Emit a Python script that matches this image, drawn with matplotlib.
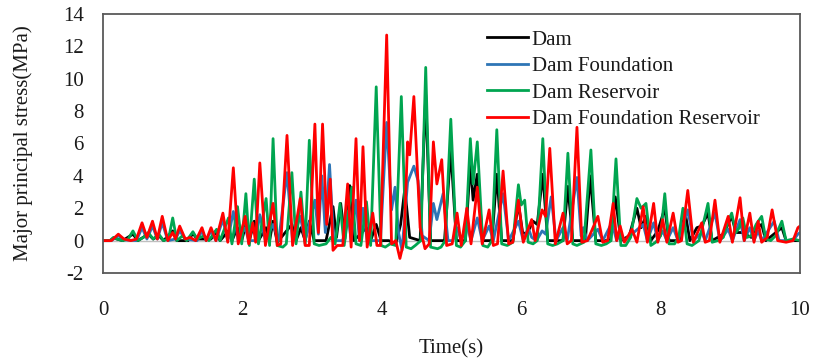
import matplotlib
matplotlib.use("Agg")
import matplotlib.pyplot as plt

# ---- response histories: (time in s, major principal stress in MPa) ----
dam_t = [0.0, 0.10, 0.15, 0.20, 0.28, 0.43, 0.50, 0.65, 0.72, 0.80, 0.87, 1.00, 1.06,
         1.22, 1.29, 1.35, 1.55, 1.61, 1.68, 1.80, 1.85, 1.93, 1.99, 2.05, 2.10, 2.17,
         2.23, 2.34, 2.39, 2.44, 2.50, 2.71, 2.77, 2.84, 2.90, 2.96, 3.03, 3.20, 3.30,
         3.35, 3.41, 3.47, 3.54, 3.60, 3.78, 3.84, 3.92, 3.99, 4.10, 4.20, 4.27, 4.33,
         4.40, 4.55, 4.63, 4.70, 4.90, 4.99, 5.07, 5.20, 5.27, 5.31, 5.37, 5.45, 5.58,
         5.65, 5.72, 5.88, 5.96, 6.02, 6.08, 6.17, 6.23, 6.31, 6.38, 6.60, 6.67, 6.74,
         6.92, 6.99, 7.07, 7.28, 7.35, 7.43, 7.55, 7.66, 7.72, 7.79, 7.86, 7.96, 8.06,
         8.12, 8.28, 8.35, 8.42, 8.52, 8.59, 8.68, 8.74, 8.90, 9.02, 9.08, 9.17, 9.30,
         9.35, 9.45, 9.51, 9.74, 9.80, 10.0]
dam_v = [0.0, 0.0, 0.15, 0.1, 0.0, 0.4, 0.0, 0.4, 0.1, 0.3, 0.0, 0.6, 0.0,
         0.0, 0.45, 0.1, 0.1, 0.55, 0.0, 0.6, 0.0, 0.8, 0.0, 1.0, 0.0, 1.2,
         0.0, 0.8, 0.0, 1.2, -0.1, 1.0, 0.0, 0.8, 0.0, 1.2, 0.0, 0.0, 2.1,
         0.2, 2.3, 0.1, 3.4, 0.0, 0.8, 0.0, 1.0, 0.0, 0.0, -0.2, 1.0, 3.2,
         0.2, 0.0, 9.0, 0.0, 0.0, 5.6, 0.0, 0.0, 4.8, 2.5, 4.1, 0.0, 0.0,
         4.1, 0.0, 0.0, 2.3, 0.5, 0.4, 1.2, 1.0, 4.1, 0.0, 0.0, 3.35, 0.0,
         0.0, 4.0, 0.0, 0.0, 2.7, 0.0, 0.3, 2.0, 0.8, 1.5, 0.0, 0.6, 2.0,
         0.0, 0.0, 1.8, 0.0, 0.8, 0.9, 1.7, 0.0, 0.4, 1.5, 0.5, 0.5, 0.2,
         0.7, 1.0, 0.0, 0.8, 0.0, 0.0]

found_t = [0.0, 0.12, 0.22, 0.30, 0.48, 0.56, 0.63, 0.71, 0.78, 0.85, 0.93, 1.04, 1.10,
           1.18, 1.35, 1.42, 1.48, 1.55, 1.62, 1.72, 1.79, 1.87, 1.94, 2.04, 2.09, 2.19,
           2.25, 2.33, 2.44, 2.52, 2.64, 2.72, 2.83, 2.90, 3.04, 3.09, 3.14, 3.19, 3.25,
           3.31, 3.44, 3.51, 3.56, 3.63, 3.68, 3.73, 3.79, 3.98, 4.07, 4.14, 4.19, 4.24,
           4.29, 4.37, 4.46, 4.52, 4.58, 4.68, 4.74, 4.79, 4.88, 4.95, 5.02, 5.08, 5.14,
           5.22, 5.28, 5.37, 5.44, 5.54, 5.60, 5.74, 5.82, 5.96, 6.03, 6.10, 6.15, 6.22,
           6.30, 6.35, 6.43, 6.50, 6.60, 6.66, 6.80, 6.86, 6.89, 6.95, 7.10, 7.17, 7.30,
           7.37, 7.42, 7.48, 7.75, 7.81, 7.90, 7.96, 8.03, 8.09, 8.18, 8.25, 8.39, 8.47,
           8.59, 8.64, 8.78, 8.85, 8.97, 9.03, 9.14, 9.20, 9.28, 9.34, 9.40, 9.45, 9.63,
           9.70, 9.90, 9.97, 10.0]
found_v = [0.0, 0.0, 0.3, 0.05, 0.0, 0.8, 0.1, 0.9, 0.1, 1.1, 0.0, 0.1, 0.6,
           0.1, 0.0, 0.6, 0.0, 0.6, 0.0, 1.3, 0.0, 1.8, 0.0, 0.8, 0.0, 0.0,
           1.6, 0.0, 1.0, 0.0, 4.2, 0.0, 1.5, 0.0, 2.5, 0.4, 4.0, 0.5, 4.7,
           0.0, 0.0, 1.8, 0.0, 2.5, 0.0, 2.0, 0.0, 0.0, 7.3, 1.9, 3.3, 0.5,
           -0.6, 3.6, 4.6, 3.7, 0.3, 0.0, 2.3, 1.3, 2.9, 0.0, 0.0, 0.8, 0.0,
           1.0, 0.0, 1.4, 0.0, 0.9, 0.0, 2.9, 0.0, 1.2, 0.0, 0.8, 0.2, 0.0,
           0.6, 0.4, 2.7, 0.0, 0.8, 0.0, 3.9, 0.3, 0.8, 0.0, 0.7, 0.0, 1.1,
           0.0, 0.5, 0.0, 1.0, 0.0, 1.1, 0.0, 0.6, 0.0, 0.8, 0.0, 1.9, 0.0,
           0.5, 0.0, 1.7, 0.0, 0.7, 0.0, 1.3, 0.0, 0.8, 0.0, 0.6, 0.0, 1.2,
           0.0, 0.0, 0.4, 0.5]

res_t = [0.0, 0.10, 0.15, 0.20, 0.28, 0.36, 0.43, 0.50, 0.58, 0.65, 0.72, 0.80, 0.87,
         0.94, 1.00, 1.06, 1.14, 1.20, 1.29, 1.35, 1.45, 1.52, 1.63, 1.68, 1.80, 1.85,
         1.93, 1.99, 2.05, 2.10, 2.17, 2.23, 2.34, 2.39, 2.44, 2.50, 2.58, 2.63, 2.71,
         2.77, 2.84, 2.90, 2.96, 3.03, 3.10, 3.20, 3.27, 3.33, 3.40, 3.46, 3.57, 3.63,
         3.70, 3.78, 3.84, 3.92, 3.99, 4.05, 4.12, 4.20, 4.28, 4.35, 4.42, 4.48, 4.56,
         4.63, 4.70, 4.80, 4.85, 4.91, 4.99, 5.07, 5.13, 5.20, 5.27, 5.31, 5.37, 5.45,
         5.52, 5.58, 5.65, 5.72, 5.80, 5.88, 5.96, 6.00, 6.05, 6.10, 6.17, 6.23, 6.31,
         6.38, 6.45, 6.52, 6.60, 6.67, 6.74, 6.80, 6.90, 7.00, 7.07, 7.15, 7.22, 7.29,
         7.36, 7.43, 7.50, 7.57, 7.66, 7.72, 7.79, 7.86, 7.93, 8.00, 8.06, 8.12, 8.20,
         8.26, 8.32, 8.38, 8.45, 8.55, 8.61, 8.68, 8.74, 8.82, 8.90, 8.96, 9.02, 9.08,
         9.13, 9.18, 9.24, 9.30, 9.37, 9.45, 9.51, 9.58, 9.65, 9.74, 9.80, 9.90, 10.0]
res_v = [0.0, 0.0, 0.2, 0.1, 0.0, 0.1, 0.6, 0.0, 0.2, 0.5, 0.1, 0.4, 0.0,
         0.1, 1.4, 0.0, 0.3, 0.0, 0.55, 0.1, 0.3, 0.0, 0.7, 0.0, 1.4, -0.2,
         2.1, -0.2, 2.9, -0.3, 3.8, -0.2, 2.6, -0.3, 6.3, -0.3, -0.4, -0.2, 4.2,
         -0.2, 3.0, -0.2, 6.2, -0.2, -0.3, -0.2, 0.2, -0.2, 2.3, -0.3, 3.3, -0.2,
         -0.3, 2.4, -0.3, 9.5, -0.3, -0.4, -0.2, -0.3, 8.9, -0.4, -0.5, -0.3, 0.0,
         10.7, -0.4, -0.5, -0.4, 0.0, 7.5, -0.3, -0.4, 0.0, 6.3, 3.5, 6.1, -0.3,
         -0.4, 0.0, 6.85, -0.2, -0.3, -0.1, 3.45, 2.2, 2.5, -0.1, -0.2, 0.0, 6.3,
         -0.2, -0.3, -0.2, 0.0, 5.4, -0.2, -0.3, -0.1, 5.6, -0.2, -0.3, -0.2, 0.0,
         5.05, -0.3, -0.3, 0.2, 2.6, 2.0, 2.3, -0.3, -0.1, 0.3, 2.9, -0.2, -0.2,
         0.2, 2.0, -0.2, -0.3, 0.0, 1.0, 2.3, -0.1, 0.0, 0.2, 1.1, 1.7, 0.5,
         0.8, 1.4, 0.2, 0.3, 1.0, 1.5, 0.1, 0.0, 0.3, 1.2, 0.0, 0.1, 0.0]

all_t = [0.0, 0.12, 0.22, 0.30, 0.40, 0.48, 0.56, 0.63, 0.71, 0.78, 0.85, 0.93, 1.00,
         1.04, 1.10, 1.18, 1.25, 1.33, 1.42, 1.48, 1.55, 1.62, 1.72, 1.79, 1.87, 1.94,
         2.04, 2.09, 2.15, 2.19, 2.25, 2.33, 2.44, 2.50, 2.55, 2.64, 2.72, 2.83, 2.90,
         2.96, 3.04, 3.09, 3.15, 3.21, 3.26, 3.30, 3.36, 3.44, 3.51, 3.56, 3.63, 3.68,
         3.73, 3.79, 3.87, 3.93, 3.98, 4.07, 4.14, 4.20, 4.26, 4.32, 4.37, 4.40, 4.46,
         4.55, 4.62, 4.68, 4.74, 4.79, 4.86, 4.93, 5.01, 5.08, 5.14, 5.22, 5.28, 5.37,
         5.44, 5.54, 5.60, 5.66, 5.74, 5.82, 5.88, 5.96, 6.03, 6.15, 6.20, 6.30, 6.35,
         6.41, 6.49, 6.60, 6.66, 6.72, 6.80, 6.87, 6.95, 7.10, 7.17, 7.24, 7.32, 7.37,
         7.42, 7.48, 7.59, 7.66, 7.75, 7.81, 7.90, 7.96, 8.03, 8.09, 8.18, 8.25, 8.30,
         8.39, 8.47, 8.59, 8.64, 8.70, 8.78, 8.85, 8.97, 9.03, 9.14, 9.20, 9.28, 9.34,
         9.40, 9.45, 9.53, 9.60, 9.68, 9.80, 9.90, 9.97, 10.0]
all_v = [0.0, 0.0, 0.4, 0.1, 0.0, 0.1, 1.1, 0.2, 1.2, 0.1, 1.5, 0.0, 0.5,
         0.1, 0.9, 0.1, 0.2, 0.0, 0.8, 0.0, 0.8, 0.0, 1.7, -0.1, 4.5, -0.2,
         1.5, -0.2, 1.1, -0.1, 4.8, -0.3, 2.3, -0.3, -0.2, 6.5, -0.3, 2.6, -0.3,
         -0.3, 7.2, 0.5, 7.2, 1.0, 3.8, -0.6, -0.3, -0.3, 3.5, -0.4, 6.3, 0.0,
         5.8, -0.4, 1.7, -0.3, -0.3, 12.7, -0.2, 0.0, -1.1, 0.0, 6.1, 5.3, 8.9,
         0.8, -0.5, -0.2, 6.1, 3.5, 5.0, -0.3, -0.2, 1.7, -0.3, 2.0, -0.2, 3.3,
         -0.2, 1.9, -0.3, -0.2, 4.3, -0.2, -0.1, 2.5, -0.1, 1.3, 0.0, 1.9, 1.5,
         5.7, -0.2, 1.7, -0.2, 0.0, 7.0, -0.1, 0.0, 1.5, -0.1, 0.0, 2.3, 0.0,
         0.9, -0.1, 0.7, -0.1, 2.1, -0.1, 2.3, -0.1, 1.3, -0.1, 1.7, -0.1, 0.0,
         3.1, -0.1, 1.1, -0.1, 0.0, 2.5, -0.1, 1.5, -0.1, 2.65, 0.0, 1.7, -0.1,
         1.2, -0.1, 0.2, 1.9, 0.0, -0.1, 0.0, 0.8, 0.9]

series_names = ["Dam", "Dam Foundation", "Dam Reservoir", "Dam Foundation Reservoir"]
series_colors = ["#000000", "#2E75B6", "#00A550", "#FF0000"]
x_ticks = [0, 2, 4, 6, 8, 10]
y_ticks = [-2, 0, 2, 4, 6, 8, 10, 12, 14]

plt.rcParams["font.family"] = ["Liberation Serif", "DejaVu Serif"]
plt.rcParams["axes.unicode_minus"] = False
text_color = "#1a1a1a"

W, H = 815, 361
fig = plt.figure(figsize=(W / 100, H / 100), dpi=100)
left, right, top, bottom = 103, 800, 14, 273
ax = fig.add_axes([left / W, 1 - bottom / H, (right - left) / W, (bottom - top) / H])

# zero reference line
ax.axhline(0, color="#BFBFBF", lw=1.0, zorder=1)

for (t, v), name, c in zip([(dam_t, dam_v), (found_t, found_v), (res_t, res_v), (all_t, all_v)],
                           series_names, series_colors):
    ax.plot(t, v, color=c, lw=2.0, label=name, zorder=2, solid_joinstyle="round")

ax.set_xlim(0, 10)
ax.set_ylim(-2, 14)
ax.set_xticks(x_ticks)
ax.set_yticks(y_ticks)
ax.tick_params(axis="both", length=0, labelsize=15, colors=text_color)
ax.tick_params(axis="x", pad=20)
ax.tick_params(axis="y", pad=14)
for s in ax.spines.values():
    s.set_color("#595959")
    s.set_linewidth(1.3)

ax.set_xlabel("Time(s)", fontsize=15, color=text_color)
ax.xaxis.set_label_coords(0.5, -0.255)
ax.set_ylabel("Major principal stress(MPa)", fontsize=15, color=text_color)
ax.yaxis.set_label_coords(-0.100, 0.5)

ax.legend(loc="upper left", bbox_to_anchor=(487 / W, 1 - 30 / H), bbox_transform=fig.transFigure,
          frameon=False, fontsize=15, handlelength=1.95, handletextpad=0.2,
          labelspacing=0.33, borderpad=0, borderaxespad=0)
for txt in ax.get_legend().get_texts():
    txt.set_color(text_color)

fig.savefig("out.png", dpi=100)
